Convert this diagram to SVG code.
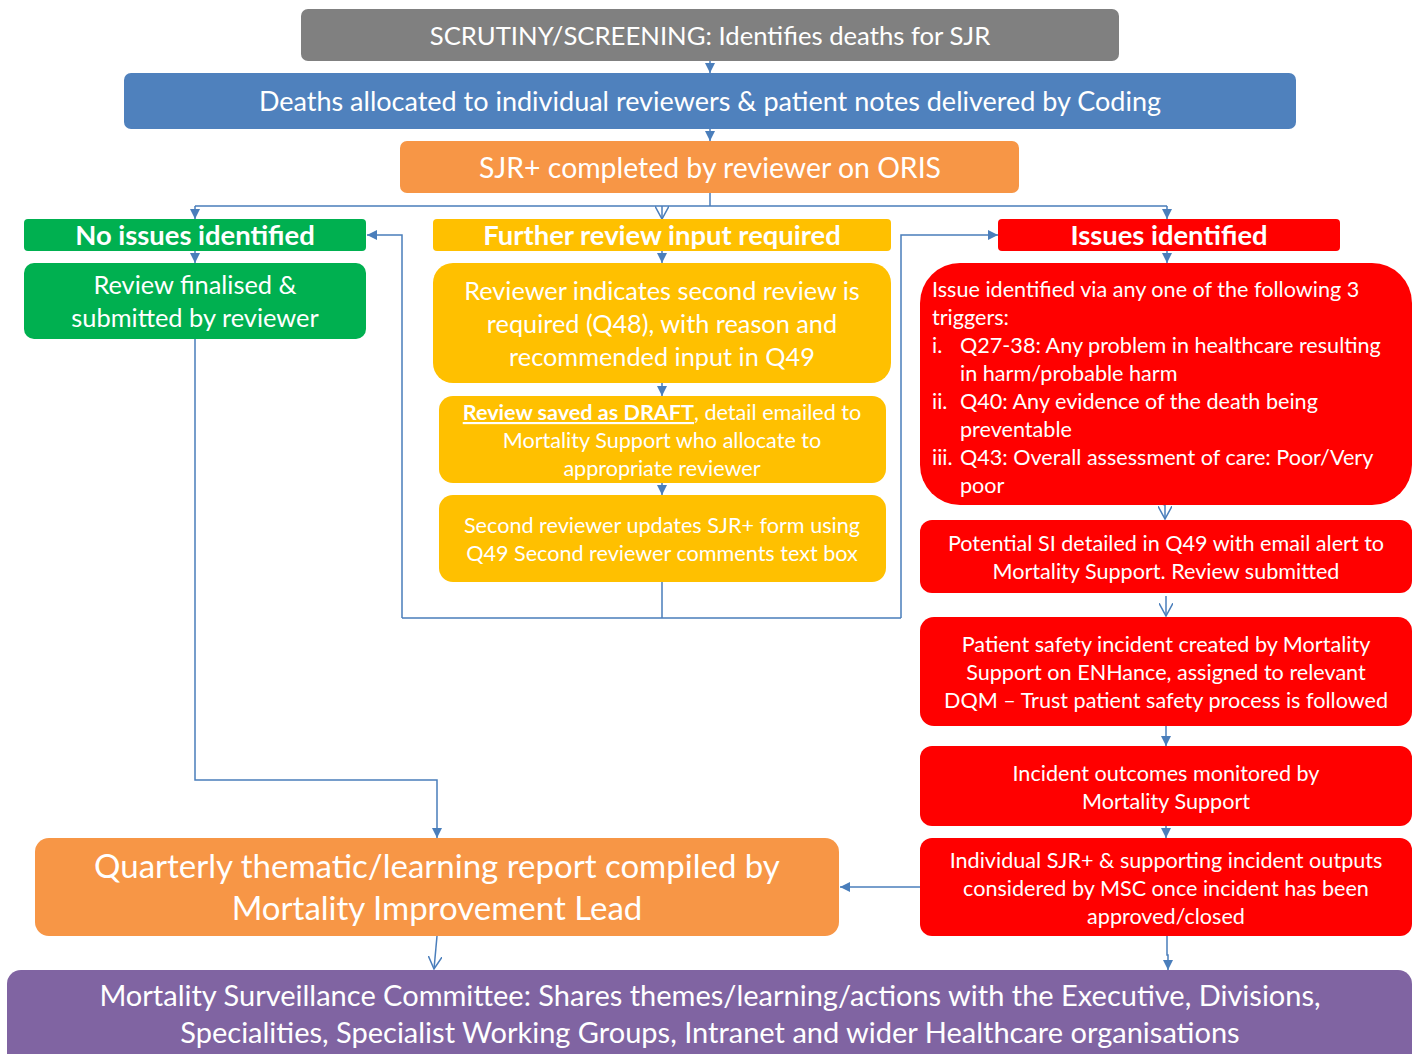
<svg xmlns="http://www.w3.org/2000/svg" width="1420" height="1054" viewBox="0 0 1420 1054">
<defs>
<marker id="af" viewBox="0 0 10 10" refX="10" refY="5" markerWidth="10" markerHeight="10" markerUnits="userSpaceOnUse" orient="auto">
<path d="M0,0 L10,5 L0,10 z" fill="#4A7EBB"/>
</marker>
<marker id="ao" viewBox="0 0 12 12" refX="11" refY="6" markerWidth="14" markerHeight="14" markerUnits="userSpaceOnUse" orient="auto">
<path d="M0,0 L11,6 L0,12" fill="none" stroke="#4A7EBB" stroke-width="1.3"/>
</marker>
</defs>
<style>
text{font-family:Lato,"Open Sans","Liberation Sans",sans-serif;fill:#fff;text-anchor:middle}
.b{font-weight:bold}
.l{text-anchor:start}
.s{font-size:21.6px}
.c{fill:none;stroke:#4A7EBB;stroke-width:1.5}
.gray{fill:#808080}.blue{fill:#4F81BD}.orange{fill:#F79646}.green{fill:#00B050}.yellow{fill:#FFC000}.red{fill:#FF0000}.purple{fill:#8064A2}
</style>
<rect width="1420" height="1054" fill="#fff"/>

<g id="connectors">
<path class="c" d="M710,61 V73" marker-end="url(#af)"/>
<path class="c" d="M710,129 V141" marker-end="url(#af)"/>
<path class="c" d="M710,193 V206 M195,206 H1167"/>
<path class="c" d="M195,206 V219" marker-end="url(#af)"/>
<path class="c" d="M662,206 V219" marker-end="url(#ao)"/>
<path class="c" d="M1167,206 V219" marker-end="url(#af)"/>
<path class="c" d="M195,251 V263" marker-end="url(#af)"/>
<path class="c" d="M195,339 V780 H437 V838" marker-end="url(#af)"/>
<path class="c" d="M662,251 V263" marker-end="url(#af)"/>
<path class="c" d="M662,383 V396" marker-end="url(#af)"/>
<path class="c" d="M662,483 V495" marker-end="url(#af)"/>
<path class="c" d="M662,582 V618 M402,618 H901"/>
<path class="c" d="M402,618 V235 H367" marker-end="url(#af)"/>
<path class="c" d="M901,618 V235 H998" marker-end="url(#af)"/>
<path class="c" d="M1167,251 V263" marker-end="url(#af)"/>
<path class="c" d="M1165,493 V519" marker-end="url(#ao)"/>
<path class="c" d="M1152,501 L1165,505"/>
<path class="c" d="M1166,596 V616" marker-end="url(#ao)"/>
<path class="c" d="M1166,726 V746" marker-end="url(#af)"/>
<path class="c" d="M1166,826 V838" marker-end="url(#af)"/>
<path class="c" d="M920,887 H840" marker-end="url(#af)"/>
<path class="c" d="M437,936 L434,969" marker-end="url(#ao)"/>
<path class="c" d="M1167,936 V955 H1168 V970" marker-end="url(#af)"/>
</g>

<g id="n1"><rect class="gray" x="301" y="9" width="818" height="52" rx="7"/>
<text x="710" y="45" font-size="25.7">SCRUTINY/SCREENING: Identifies deaths for SJR</text></g>

<g id="n2"><rect class="blue" x="124" y="73" width="1172" height="56" rx="7"/>
<text x="710" y="111" font-size="27">Deaths allocated to individual reviewers &amp; patient notes delivered by Coding</text></g>

<g id="n3"><rect class="orange" x="400" y="141" width="619" height="52" rx="7"/>
<text x="710" y="178" font-size="28.4">SJR+ completed by reviewer on ORIS</text></g>

<g id="n4"><rect class="green" x="24" y="219" width="342" height="32" rx="4"/>
<text class="b" x="195" y="245" font-size="27.4">No issues identified</text></g>

<g id="n5"><rect class="green" x="24" y="263" width="342" height="76" rx="10"/>
<text x="195" y="294" font-size="25.4">Review finalised &amp;</text>
<text x="195" y="327" font-size="25.4">submitted by reviewer</text></g>

<g id="n6"><rect class="yellow" x="433" y="219" width="458" height="32" rx="4"/>
<text class="b" x="662" y="245" font-size="27.4">Further review input required</text></g>

<g id="n7"><rect class="yellow" x="433" y="263" width="458" height="120" rx="20"/>
<text x="662" y="300" font-size="25.3">Reviewer indicates second review is</text>
<text x="662" y="333" font-size="25.3">required (Q48), with reason and</text>
<text x="662" y="366" font-size="25.3">recommended input in Q49</text></g>

<g id="n8"><rect class="yellow" x="439" y="396" width="447" height="87" rx="14"/>
<text class="s" x="662" y="420"><tspan class="b" text-decoration="underline">Review saved as DRAFT</tspan>, detail emailed to</text>
<text class="s" x="662" y="448">Mortality Support who allocate to</text>
<text class="s" x="662" y="476">appropriate reviewer</text></g>

<g id="n9"><rect class="yellow" x="439" y="495" width="447" height="87" rx="14"/>
<text class="s" x="662" y="533">Second reviewer updates SJR+ form using</text>
<text class="s" x="662" y="561">Q49 Second reviewer comments text box</text></g>

<g id="n10"><rect class="red" x="998" y="219" width="342" height="32" rx="4"/>
<text class="b" x="1169" y="245" font-size="27.4">Issues identified</text></g>

<g id="n11"><rect class="red" x="920" y="263" width="492" height="242" rx="40"/>
<text class="l s" x="932" y="297">Issue identified via any one of the following 3</text>
<text class="l s" x="932" y="325">triggers:</text>
<text class="l s" x="932" y="353">i.</text>
<text class="l s" x="960" y="353">Q27-38: Any problem in healthcare resulting</text>
<text class="l s" x="960" y="381">in harm/probable harm</text>
<text class="l s" x="932" y="409">ii.</text>
<text class="l s" x="960" y="409">Q40: Any evidence of the death being</text>
<text class="l s" x="960" y="437">preventable</text>
<text class="l s" x="932" y="465">iii.</text>
<text class="l s" x="960" y="465">Q43: Overall assessment of care: Poor/Very</text>
<text class="l s" x="960" y="493">poor</text></g>

<g id="n12"><rect class="red" x="920" y="520" width="492" height="73" rx="12"/>
<text class="s" x="1166" y="551">Potential SI detailed in Q49 with email alert to</text>
<text class="s" x="1166" y="579">Mortality Support. Review submitted</text></g>

<g id="n13"><rect class="red" x="920" y="617" width="492" height="109" rx="14"/>
<text class="s" x="1166" y="652">Patient safety incident created by Mortality</text>
<text class="s" x="1166" y="680">Support on ENHance, assigned to relevant</text>
<text class="s" x="1166" y="708">DQM – Trust patient safety process is followed</text></g>

<g id="n14"><rect class="red" x="920" y="746" width="492" height="80" rx="12"/>
<text class="s" x="1166" y="781">Incident outcomes monitored by</text>
<text class="s" x="1166" y="809">Mortality Support</text></g>

<g id="n15"><rect class="red" x="920" y="838" width="492" height="98" rx="12"/>
<text class="s" x="1166" y="868">Individual SJR+ &amp; supporting incident outputs</text>
<text class="s" x="1166" y="896">considered by MSC once incident has been</text>
<text class="s" x="1166" y="924">approved/closed</text></g>

<g id="n16"><rect class="orange" x="35" y="838" width="804" height="98" rx="14"/>
<text x="437" y="878" font-size="33">Quarterly thematic/learning report compiled by</text>
<text x="437" y="920" font-size="33">Mortality Improvement Lead</text></g>

<g id="n17"><rect class="purple" x="7" y="970" width="1405" height="100" rx="14"/>
<text x="710" y="1006" font-size="29">Mortality Surveillance Committee: Shares themes/learning/actions with the Executive, Divisions,</text>
<text x="710" y="1043" font-size="29">Specialities, Specialist Working Groups, Intranet and wider Healthcare organisations</text></g>
</svg>
